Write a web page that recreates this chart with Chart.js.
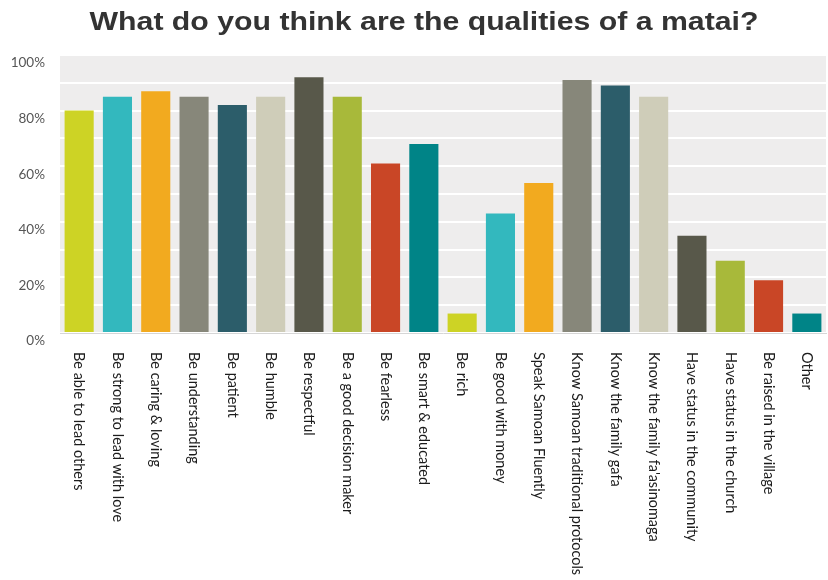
<!DOCTYPE html>
<html>
<head>
<meta charset="utf-8">
<script src="https://cdn.jsdelivr.net/npm/chart.js@4.4.1/dist/chart.umd.min.js"></script>
<style>
  body { margin: 0; background: #fff; }
  #wrap { width: 828px; height: 580px; }
</style>
</head>
<body>
<div id="wrap"><canvas id="qualitiesChart" width="828" height="580"></canvas></div>
<script>
// Survey answers, % of respondents
const qualities = [
  'Be able to lead others', 'Be strong to lead with love', 'Be caring & loving',
  'Be understanding', 'Be patient', 'Be humble', 'Be respectful',
  'Be a good decision maker', 'Be fearless', 'Be smart & educated', 'Be rich',
  'Be good with money', 'Speak Samoan Fluently', 'Know Samoan traditional protocols',
  'Know the family gafa', "Know the family fa'asinomaga", 'Have status in the community',
  'Have status in the church', 'Be raised in the village', 'Other'
];
const percents = [80, 85, 87, 85, 82, 85, 92, 85, 61, 68, 7, 43, 54, 91, 89, 85, 35, 26, 19, 7];
const palette = ['#CDD325', '#33B8BE', '#F2AA1F', '#87877A', '#2C5D6A',
                 '#CFCDB9', '#58584A', '#A8B93A', '#C94626', '#008487'];
const titleText = 'What do you think are the qualities of a matai?';

const barColors = percents.map((v, i) => palette[i % palette.length]);

// grey panel behind the bars
const panelBg = {
  id: 'panelBg',
  beforeDraw(chart) {
    const { ctx, chartArea: a } = chart;
    ctx.save();
    ctx.fillStyle = '#EEEDED';
    ctx.fillRect(a.left, a.top, a.right - a.left, a.bottom - a.top);
    ctx.restore();
  }
};

// wide bold heading + category names written top-to-bottom under each bar
const textLayer = {
  id: 'textLayer',
  afterDraw(chart) {
    const { ctx } = chart;
    const x = chart.scales.x;
    ctx.save();
    ctx.translate(424, 30);
    ctx.scale(1.21, 1);
    ctx.font = 'bold 25px "Liberation Sans", Arial, sans-serif';
    ctx.fillStyle = '#333';
    ctx.textAlign = 'center';
    ctx.textBaseline = 'alphabetic';
    ctx.fillText(titleText, 0, 0);
    ctx.restore();

    ctx.save();
    ctx.font = '14.5px Lato, "Open Sans", sans-serif';
    ctx.fillStyle = '#1c1c1c';
    ctx.textAlign = 'left';
    ctx.textBaseline = 'middle';
    qualities.forEach((q, i) => {
      ctx.save();
      ctx.translate(x.getPixelForValue(i), x.top + 19);
      ctx.rotate(Math.PI / 2);
      ctx.fillText(q, 0, 0);
      ctx.restore();
    });
    ctx.restore();
  }
};

new Chart(document.getElementById('qualitiesChart'), {
  type: 'bar',
  data: {
    labels: qualities,
    datasets: [{
      data: percents,
      backgroundColor: barColors,
      categoryPercentage: 1,
      barPercentage: 0.76
    }]
  },
  options: {
    responsive: false,
    animation: false,
    layout: { padding: { left: 0, right: 2, top: 55, bottom: 0 } },
    plugins: {
      legend: { display: false },
      tooltip: { enabled: false },
      title: { display: false }
    },
    scales: {
      x: {
        grid: { display: false },
        border: { color: '#D6D6D6' },
        ticks: { display: false },
        afterFit(s) { s.height = 247; }
      },
      y: {
        min: 0,
        max: 100,
        border: { display: false },
        grid: { color: '#FFFFFF', lineWidth: 2, drawTicks: false },
        ticks: {
          stepSize: 10,
          padding: 15,
          labelOffset: 8,
          color: '#555',
          font: { family: 'Lato, "Open Sans", sans-serif', size: 13.5 },
          callback: v => (v % 20 === 0 ? v + '%' : '')
        },
        afterFit(s) { s.width = 60; }
      }
    }
  },
  plugins: [panelBg, textLayer]
});
</script>
</body>
</html>
